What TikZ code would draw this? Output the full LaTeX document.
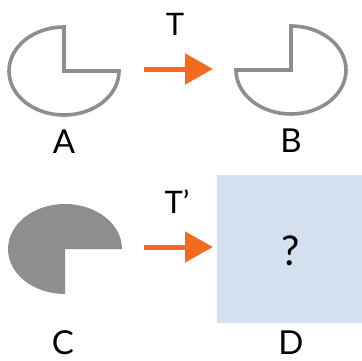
\documentclass[tikz,border=0pt]{standalone}
\usepackage{fontspec}
\setmainfont{Lato}
\usetikzlibrary{arrows.meta,positioning}

\definecolor{shapegray}{HTML}{8E8E8E}
\definecolor{maporange}{HTML}{F26B21}
\definecolor{boxblue}{HTML}{D4E0F0}

\begin{document}
\begin{tikzpicture}[
      x=1pt,y=1pt,
      pie/.style={draw=shapegray,line width=3.6pt,line join=miter},
      piefill/.style={fill=shapegray},
      lbl/.style={anchor=base,inner sep=0pt,font=\fontsize{33}{33}\selectfont},
      map/.style={draw=maporange,line width=5pt,-{Triangle[length=28pt,width=30pt]}}
    ]
      \useasboundingbox (0,0) rectangle (362,360);

      % shapes
      \draw[pie] (64,289) -- ++(0,44) arc[start angle=90,end angle=360,x radius=55,y radius=44] -- cycle;
      \draw[pie] (291,290) -- ++(-55,0) arc[start angle=180,end angle=450,x radius=55,y radius=44] -- cycle;
      \fill[piefill] (65,111) -- ++(57,0) arc[start angle=0,end angle=270,x radius=57,y radius=45] -- cycle;
      \fill[boxblue] (217,37) rectangle (362,185);

      % labels
      \node[lbl] (A) at (64,207) {A};
      \node[lbl] (B) at (291,208) {B};
      \node[lbl] (C) at (63,6) {C};
      \node[lbl] (D) at (291,6) {D};
      \node[lbl,font=\fontsize{31}{31}\selectfont] (T) at (175,325) {T};
      \node[lbl,font=\fontsize{31}{31}\selectfont] (Tp) at (177,147) {T’};
      \node[anchor=base,inner sep=0pt,font=\fontsize{41}{41}\selectfont] (q) at (291,95) {?};

      % maps
      \coordinate (a1) at (144,291);
      \coordinate (b1) at (213,291);
      \coordinate (c1) at (144,113);
      \coordinate (d1) at (213,113);
      \draw[map] (a1) -- (b1);
      \draw[map] (c1) -- (d1);
    \end{tikzpicture}
\end{document}
